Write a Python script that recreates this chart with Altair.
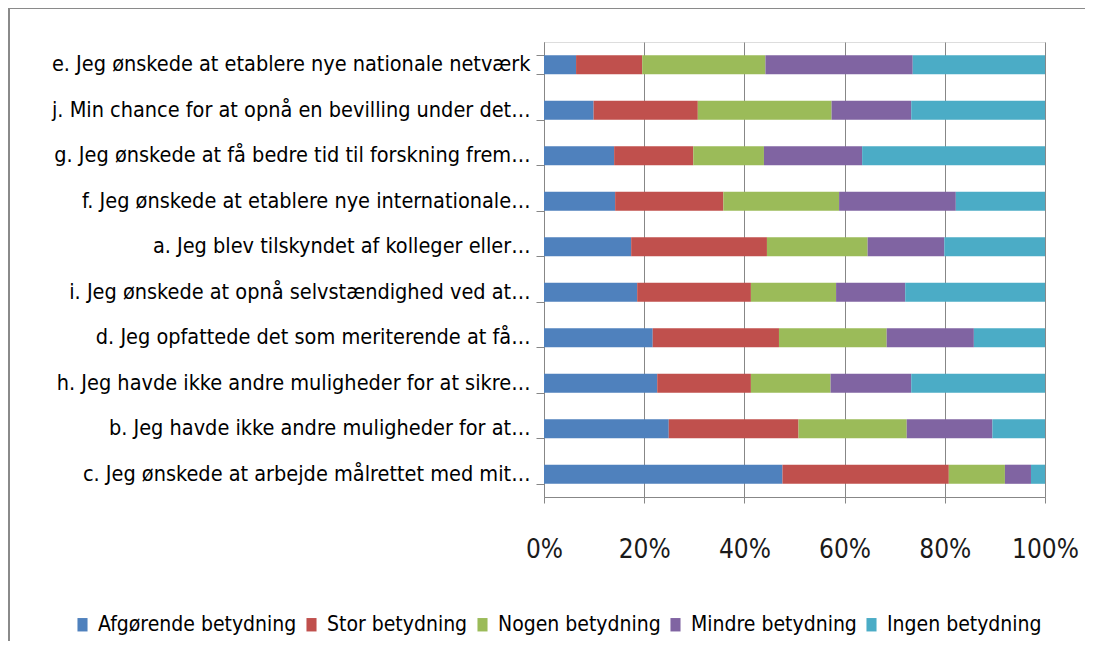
import altair as alt
import pandas as pd

categories = [
    "e. Jeg ønskede at etablere nye nationale netværk",
    "j. Min chance for at opnå en bevilling under det…",
    "g. Jeg ønskede at få bedre tid til forskning frem…",
    "f. Jeg ønskede at etablere nye internationale…",
    "a. Jeg blev tilskyndet af kolleger eller…",
    "i. Jeg ønskede at opnå selvstændighed ved at…",
    "d. Jeg opfattede det som meriterende at få…",
    "h. Jeg havde ikke andre muligheder for at sikre…",
    "b. Jeg havde ikke andre muligheder for at…",
    "c. Jeg ønskede at arbejde målrettet med mit…",
]
series = ["Afgørende betydning", "Stor betydning", "Nogen betydning",
          "Mindre betydning", "Ingen betydning"]
afgoerende = [6.4, 9.9, 14.0, 14.2, 17.4, 18.6, 21.7, 22.6, 24.9, 47.6]
stor = [13.2, 20.8, 15.8, 21.6, 27.1, 22.7, 25.2, 18.7, 25.9, 33.2]
nogen = [24.6, 26.7, 14.1, 23.1, 20.1, 17.0, 21.5, 15.9, 21.6, 11.2]
mindre = [29.4, 15.9, 19.6, 23.3, 15.3, 13.8, 17.4, 16.1, 17.1, 5.2]
ingen = [26.4, 26.7, 36.5, 17.8, 20.1, 27.9, 14.2, 26.7, 10.5, 2.8]
colors = ["#4F81BD", "#C0504D", "#9BBB59", "#8064A2", "#4BACC6"]
tick_values = [0, 0.2, 0.4, 0.6, 0.8, 1.0]

rows = []
for si, (name, vals) in enumerate(zip(series, [afgoerende, stor, nogen, mindre, ingen])):
    for cat, v in zip(categories, vals):
        rows.append({"kategori": cat, "serie": name, "vaerdi": v, "orden": si})
df = pd.DataFrame(rows)

FONT = "DejaVu Sans Condensed, Liberation Sans Narrow, sans-serif"

bars = alt.Chart(df).mark_bar().encode(
    x=alt.X("vaerdi:Q", stack="normalize",
            scale=alt.Scale(domain=[0, 1], nice=False),
            axis=alt.Axis(values=tick_values, format="%", title=None,
                          grid=True, gridColor="#878787", gridWidth=1,
                          domainColor="#878787", tickColor="#878787",
                          tickSize=6, labelPadding=33, labelFontSize=26,
                          labelFlush=False,
                          labelColor="#1a1a1a", labelFont=FONT)),
    y=alt.Y("kategori:N", sort=categories, title=None,
            scale=alt.Scale(paddingInner=0.58, paddingOuter=0.29),
            axis=alt.Axis(tickBand="extent", tickSize=8, tickColor="#878787",
                          domainColor="#878787", labelFontSize=21.5,
                          labelPadding=6, labelLimit=600, labelColor="#000000",
                          labelFont=FONT)),
    color=alt.Color("serie:N", sort=series,
                    scale=alt.Scale(domain=series, range=colors),
                    legend=alt.Legend(title=None, orient="none",
                                      direction="horizontal", columns=5,
                                      legendX=-472, legendY=572,
                                      symbolType="M-0.75,-1L0.75,-1L0.75,1L-0.75,1Z",
                                      symbolSize=180, symbolStrokeWidth=0,
                                      labelFontSize=21, labelFont=FONT,
                                      labelColor="#000000", labelOffset=5,
                                      columnPadding=4, labelLimit=300)),
    order=alt.Order("orden:Q", sort="ascending"),
)

frame_data = alt.Data(values=[{"f": 1}])
left_line = alt.Chart(frame_data).mark_rule(color="#8a8a8a", strokeWidth=2).encode(
    x=alt.value(-535), y=alt.value(-34), y2=alt.value(800)
)
top_line = alt.Chart(frame_data).mark_rule(color="#8a8a8a", strokeWidth=2).encode(
    x=alt.value(-536), x2=alt.value(700), y=alt.value(-34)
)

chart = alt.layer(left_line, top_line, bars).properties(
    width=501, height=455,
    padding={"left": 536, "top": 34, "right": 40, "bottom": 144},
    autosize=alt.AutoSizeParams(type="none"),
).configure_view(stroke=None).configure(background="white")

chart.save("out.html", embed_options={"renderer": "svg", "actions": False})
